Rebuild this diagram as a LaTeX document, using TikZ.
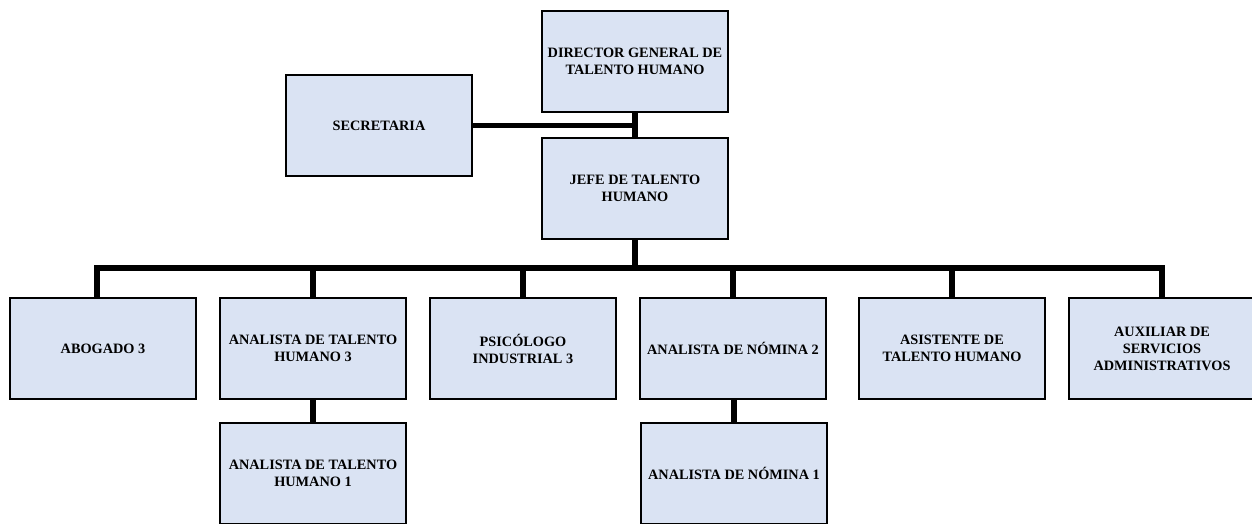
\documentclass[tikz,border=0pt]{standalone}
\usepackage{fontspec}
\setmainfont{Liberation Serif}
\definecolor{boxfill}{HTML}{DAE3F3}
\begin{document}
\begin{tikzpicture}[x=1pt,y=-1pt,
  orgbox/.style={draw=black,line width=2pt,fill=boxfill,minimum width=186pt,minimum height=101pt,
    inner sep=2pt,align=center,font=\fontsize{14.3}{17}\selectfont\bfseries},
  conn/.style={line width=5.5pt,black}]
\useasboundingbox (0,0) rectangle (1252,523);
\node[orgbox] (dir) at (635,61) {DIRECTOR GENERAL DE\\TALENTO HUMANO};
\node[orgbox] (sec) at (379,125.5) {SECRETARIA};
\node[orgbox] (jefe) at (635,188.5) {JEFE DE TALENTO\\HUMANO};
\node[orgbox] (abog) at (103,348.5) {ABOGADO 3};
\node[orgbox] (th3) at (313,348.5) {ANALISTA DE TALENTO\\HUMANO 3};
\node[orgbox] (psi) at (523,348.5) {PSICÓLOGO\\INDUSTRIAL 3};
\node[orgbox] (nom2) at (733,348.5) {ANALISTA DE NÓMINA 2};
\node[orgbox] (asis) at (952,348.5) {ASISTENTE DE\\TALENTO HUMANO};
\node[orgbox] (aux) at (1162,348.5) {AUXILIAR DE\\SERVICIOS\\ADMINISTRATIVOS};
\node[orgbox] (th1) at (313,473.5) {ANALISTA DE TALENTO\\HUMANO 1};
\node[orgbox] (nom1) at (734,473.5) {ANALISTA DE NÓMINA 1};
\coordinate (busy) at (0,268);
% connectors
\draw[conn] (dir.south) -- (jefe.north);
\draw[conn] (sec.east) -- (sec.east -| dir.south);
\draw[conn] (jefe.south) -- (jefe.south |- busy);
\draw[conn] ([xshift=-6pt]abog.north) |- (aux.north |- busy) -- (aux.north);
\draw[conn] (th3.north) -- (th3.north |- busy);
\draw[conn] (psi.north) -- (psi.north |- busy);
\draw[conn] (nom2.north) -- (nom2.north |- busy);
\draw[conn] (asis.north) -- (asis.north |- busy);
\draw[conn] (th3.south) -- (th1.north);
\draw[conn] ([xshift=1pt]nom2.south) -- ([xshift=0pt]nom1.north);
\end{tikzpicture}
\end{document}
